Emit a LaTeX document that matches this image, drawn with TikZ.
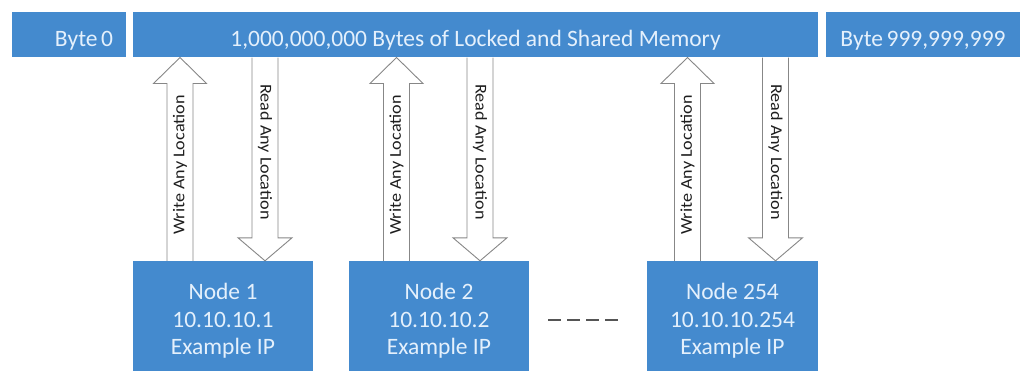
\documentclass[tikz,border=0pt]{standalone}
\usepackage{fontspec}
\setmainfont{Carlito}
\usetikzlibrary{calc}

\definecolor{boxblue}{RGB}{68,138,206}
\definecolor{boxtext}{RGB}{228,240,252}
\definecolor{arrowgrey}{RGB}{135,135,135}
\definecolor{labelgrey}{RGB}{30,30,30}
\definecolor{dotsgrey}{RGB}{85,85,85}

\tikzset{
  bluebox/.style={rectangle, fill=boxblue, draw=none, inner sep=0pt,
    text=boxtext, font=\fontsize{23.5}{27.5}\selectfont},
  topbox/.style={bluebox, minimum height=45.6pt, text height=24.4pt, text depth=0pt},
  hostbox/.style={bluebox, minimum width=180pt, minimum height=120pt, align=center},
  blockarrow/.style={fill=white, draw=arrowgrey, line width=0.9pt, line join=miter},
  arrowlabel/.style={inner sep=0pt, text=labelgrey, font=\fontsize{16.5}{19}\selectfont},
  ellipsisline/.style={draw=dotsgrey, line width=1.6pt, dash pattern=on 13pt off 6pt}
}

% upward block arrow at x-coordinate #1, from the top of node #2 to the bottom of node #3
\newcommand\writearrow[3]{%
  \path (#1|-#2.north) coordinate (abase) (#1|-#3.south) coordinate (atip);
  \path[blockarrow] ($(abase)+(-13,0)$) -- ($(atip)+(-13,26)$) -- ($(atip)+(-26.5,26)$)
    -- (atip) -- ($(atip)+(26.5,26)$) -- ($(atip)+(13,26)$) -- ($(abase)+(13,0)$);
}
% downward block arrow at x-coordinate #1, from the bottom of node #2 to the top of node #3
\newcommand\readarrow[3]{%
  \path (#1|-#2.south) coordinate (abase) (#1|-#3.north) coordinate (atip);
  \path[blockarrow] ($(abase)+(-13,0)$) -- ($(atip)+(-13,-23)$) -- ($(atip)+(-27,-23)$)
    -- (atip) -- ($(atip)+(27,-23)$) -- ($(atip)+(13,-23)$) -- ($(abase)+(13,0)$);
}

\begin{document}
\begin{tikzpicture}[x=1pt, y=-1pt]
  \useasboundingbox (0,0) rectangle (1023,370);

  % shared memory strip
  \node[topbox, minimum width=114pt, text width=88pt, align=right] (b0) at (69,34.5) {Byte\hspace{0.15em}0};
  \node[topbox, minimum width=685pt] (mem) at (475.5,34.5)
    {1,000,000,000 Bytes of Locked and Shared Memory};
  \node[topbox, minimum width=194pt] (blast) at (923,34.5) {Byte\hspace{0.15em}999,999,999};

  % cluster hosts
  \node[hostbox] (n1) at (223,321) {Node 1\\10.10.10.1\\Example IP};
  \node[hostbox] (n2) at (439,321) {Node 2\\10.10.10.2\\Example IP};
  \node[hostbox, minimum width=171pt] (n3) at (732.5,321) {Node 254\\10.10.10.254\\Example IP};

  % arrow axes
  \coordinate (w1) at (180,0);   \coordinate (r1) at (265,0);
  \coordinate (w2) at (396.5,0); \coordinate (r2) at (480,0);
  \coordinate (w3) at (687.5,0); \coordinate (r3) at (775.5,0);

  \writearrow{w1}{n1}{mem} \readarrow{r1}{mem}{n1}
  \writearrow{w2}{n2}{mem} \readarrow{r2}{mem}{n2}
  \writearrow{w3}{n3}{mem} \readarrow{r3}{mem}{n3}

  % arrow captions
  \foreach \w/\r in {w1/r1, w2/r2, w3/r3} {
    \node[arrowlabel, rotate=90] (\w t) at ($(\w)+(0,165)$) {\scalebox{1.1}[1]{Write Any Location}};
    \node[arrowlabel, rotate=-90] (\r t) at ($(\r)+(0,152)$) {\scalebox{1.1}[1]{Read Any Location}};
  }

  % ellipsis between host 2 and host 254
  \coordinate (dotsA) at (548,320);
  \coordinate (dotsB) at (618,320);
  \draw[ellipsisline] (dotsA) -- (dotsB);
\end{tikzpicture}
\end{document}
